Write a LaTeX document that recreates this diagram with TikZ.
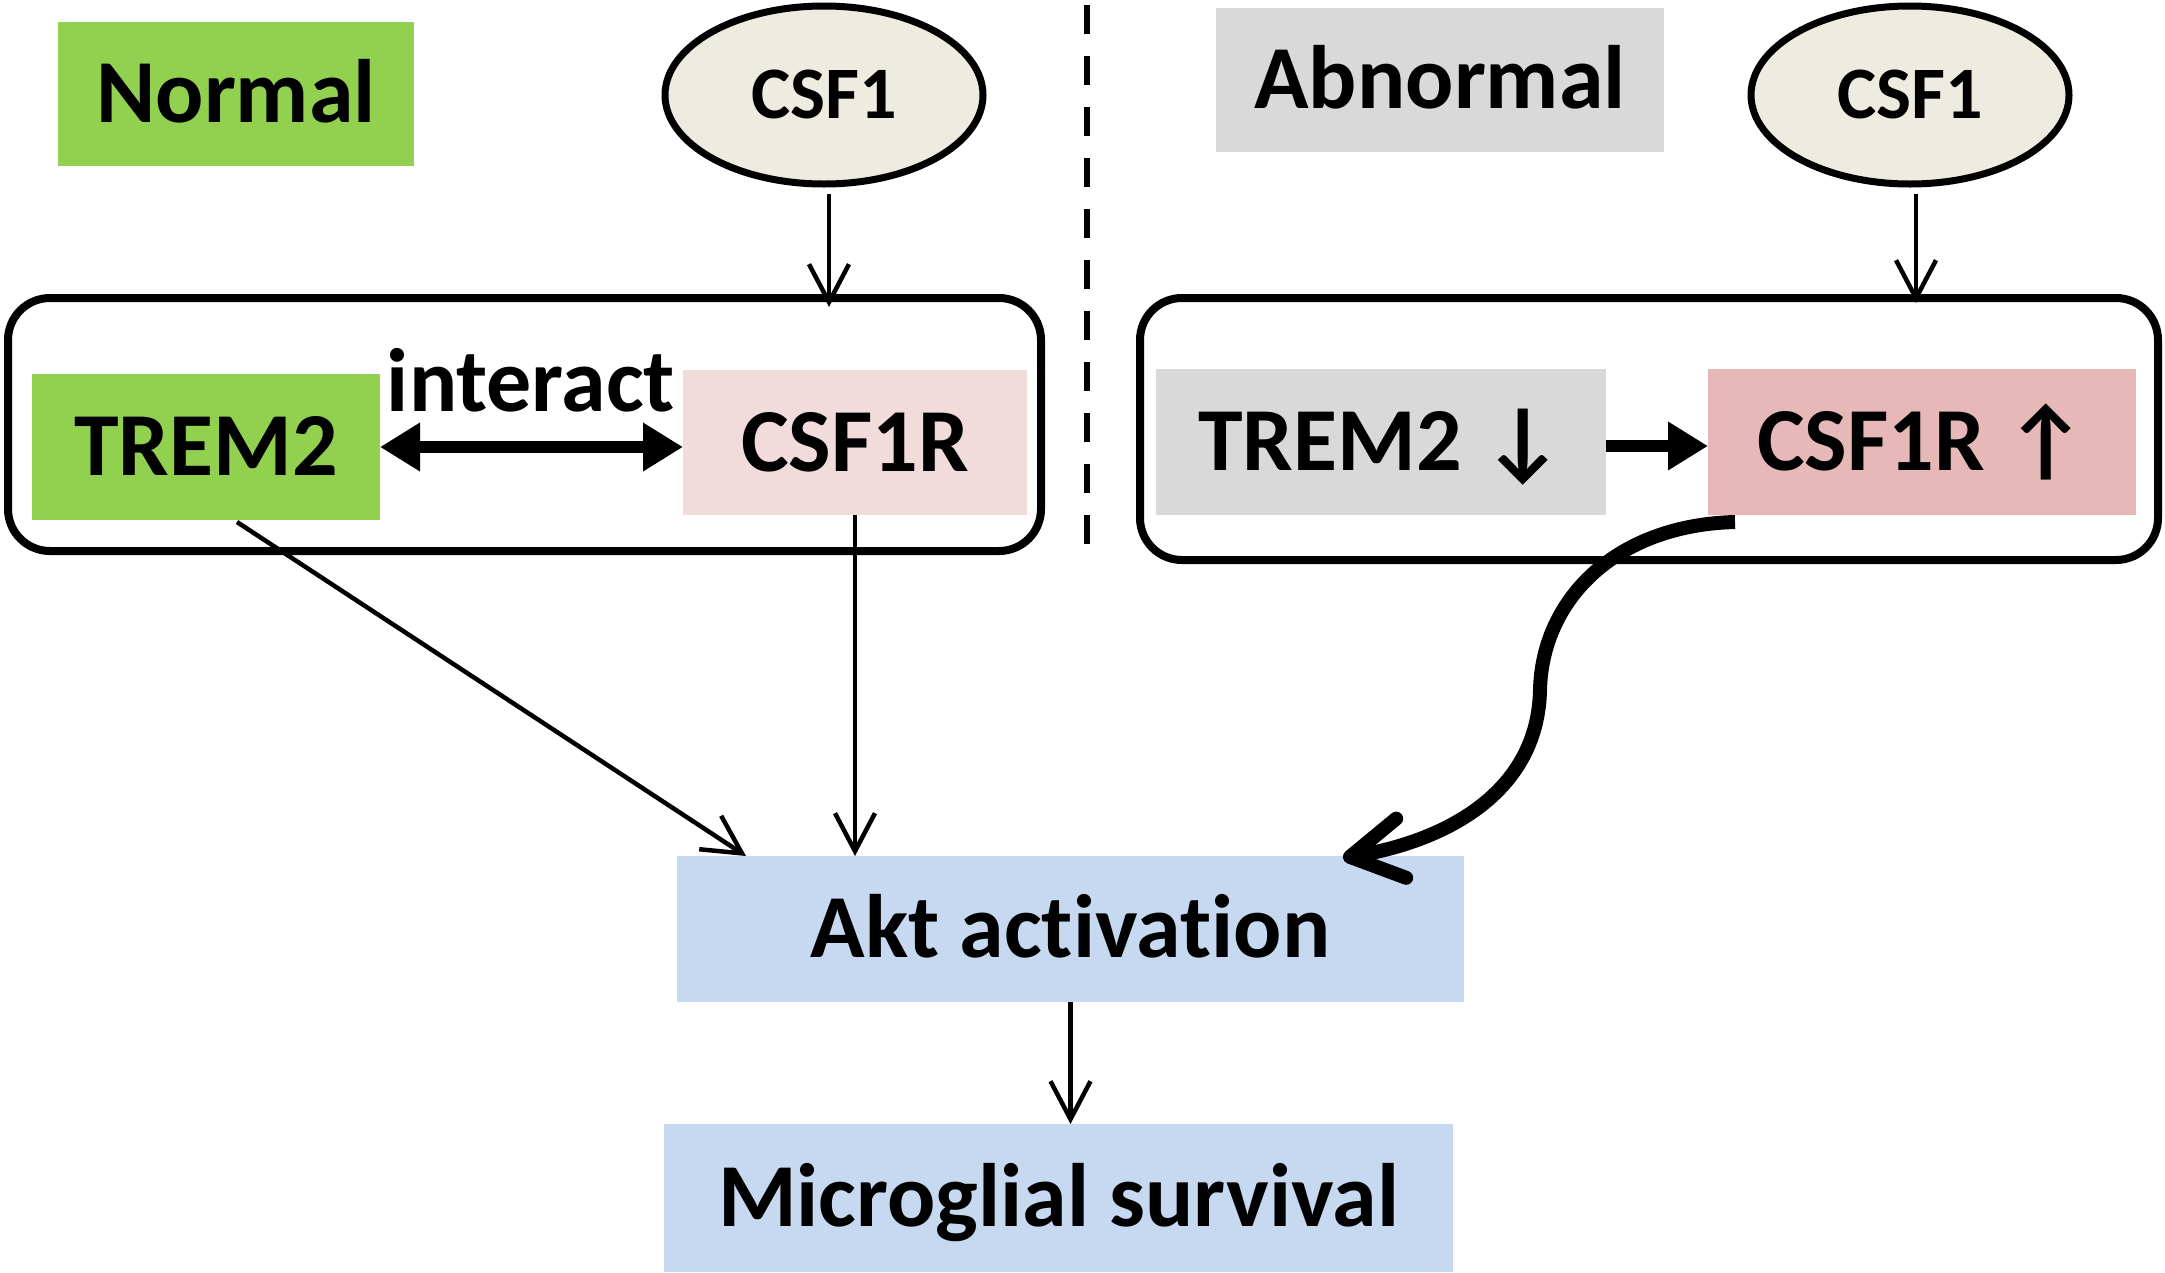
\documentclass[tikz,border=0pt]{standalone}
\usepackage{fontspec}
\setmainfont{Carlito}[Ligatures={NoCommon,NoContextual,NoRare}]
\usetikzlibrary{arrows.meta,shapes.geometric}
\newcommand\myfs[1]{\fontsize{#1}{#1}\selectfont}
\definecolor{cgreen}{HTML}{92D050}
\definecolor{cpinkl}{HTML}{F2DCDB}
\definecolor{cpinkd}{HTML}{E6B9B8}
\definecolor{cgray}{HTML}{D9D9D9}
\definecolor{cblue}{HTML}{C6D9F1}
\definecolor{ctan}{HTML}{EEECE1}
\begin{document}
\begin{tikzpicture}[x=1pt,y=-1pt,
  lbl/.style={inner sep=0pt, outer sep=0pt, text height=57pt, text depth=0pt, font={\myfs{90}\bfseries}, align=center},
  ell/.style={ellipse, draw, line width=7pt, fill=ctan, inner sep=0pt, minimum width=318pt, minimum height=178pt, text height=47pt, text depth=0pt, font={\myfs{74}\bfseries}},
  frame/.style={draw, line width=8pt, rounded corners=42pt, inner sep=0pt, fill=none},
  thinarr/.style={line width=4.5pt, -{Straight Barb[length=38pt,width=40pt]}},
  thickarr/.style={line width=12pt, -{Triangle[length=40pt,width=46pt]}},
  dblarr/.style={line width=12pt, {Triangle[length=40pt,width=46pt]}-{Triangle[length=40pt,width=46pt]}},
  curvarr/.style={line width=14pt, -{Straight Barb[length=52pt,width=60pt,round]}}
]
\useasboundingbox (0,0) rectangle (2165,1272);

% divider
\draw[line width=6pt, dash pattern=on 29pt off 22pt] (1087,5) -- (1087,563);

% frames
\node[frame, minimum width=1033pt, minimum height=253pt] (lbox) at (524.5,424.5) {};
\node[frame, minimum width=1018pt, minimum height=262pt] (rbox) at (1649,429) {};

% titles
\node[lbl, fill=cgreen, minimum width=356pt, minimum height=144pt] (normal) at (236,94) {Normal};
\node[lbl, fill=cgray, minimum width=448pt, minimum height=144pt] (abnormal) at (1440,80) {Abnormal};

% ligands
\node[ell] (csf1a) at (824,95) {CSF1};
\node[ell] (csf1b) at (1910,95) {CSF1};

% receptors
\node[lbl, fill=cgreen, minimum width=348pt, minimum height=146pt] (trem2a) at (206,447) {TREM2};
\node[lbl, fill=cpinkl, minimum width=344pt, minimum height=145pt] (csf1ra) at (855,442.5) {CSF1R};
\node[lbl, fill=cgray, minimum width=450pt, minimum height=146pt] (trem2b) at (1381,442) {TREM2 ↓};
\node[lbl, fill=cpinkd, minimum width=428pt, minimum height=146pt] (csf1rb) at (1922,442) {CSF1R ↑};

\node[lbl, anchor=base] (interact) at (531,411) {interact};

% downstream
\node[lbl, fill=cblue, minimum width=787pt, minimum height=146pt] (akt) at (1070.5,929) {Akt ac\kern0pt ti\kern0pt vat\kern0pt ion};
\node[lbl, fill=cblue, minimum width=789pt, minimum height=148pt] (micro) at (1058.5,1198) {Microglial survival};

% connectors
\draw[thinarr] ([xshift=5pt,yshift=-6pt]csf1a.south) -- ([xshift=5pt,yshift=-13pt]csf1a.south |- lbox.north);
\draw[thinarr] ([xshift=6pt,yshift=-6pt]csf1b.south) -- ([xshift=6pt,yshift=-9pt]csf1b.south |- rbox.north);
\draw[dblarr] (trem2a.east) -- (trem2a.east -| csf1ra.west);
\draw[thickarr] ([yshift=-4pt]trem2b.east) -- ([yshift=-4pt]csf1rb.west);
\draw[thinarr] ([xshift=31pt,yshift=-2pt]trem2a.south) -- ([xshift=69pt]akt.north west);
\draw[thinarr] (csf1ra.south) -- (csf1ra.south |- akt.north);
\draw[thinarr] (akt.south) -- (akt.south |- micro.north);
\coordinate (cstart) at ([xshift=27pt,yshift=-7pt]csf1rb.south west);
\coordinate (cend) at ([xshift=-121pt,yshift=-2pt]akt.north east);
\draw[curvarr] (cstart) .. controls (1615,525) and (1542,600) .. (1540,690) .. controls (1538,790) and (1450,840) .. (cend);
\end{tikzpicture}
\end{document}
